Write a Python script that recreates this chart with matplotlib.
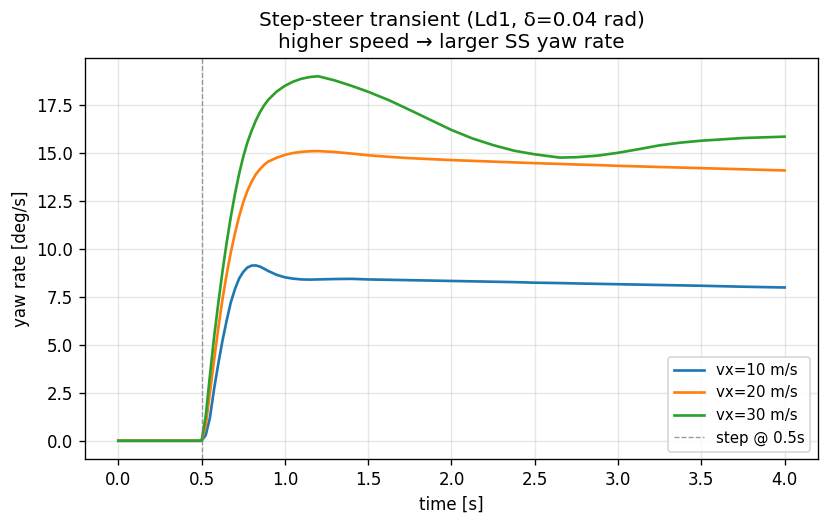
import numpy as np
import matplotlib
matplotlib.use("Agg")
import matplotlib.pyplot as plt

# time samples [s]
t = [0.0, 0.5, 0.525, 0.55, 0.575, 0.6, 0.625, 0.65, 0.675, 0.7, 0.725, 0.75,
     0.775, 0.8, 0.825, 0.85, 0.875, 0.9, 0.95, 1.0, 1.05, 1.1, 1.15, 1.2,
     1.3, 1.4, 1.5, 1.625, 1.75, 1.875, 2.0, 2.125, 2.25, 2.375, 2.5, 2.65,
     2.75, 2.875, 3.0, 3.125, 3.25, 3.375, 3.5, 3.75, 4.0]

# yaw rate [deg/s] per speed
r_vx10 = [0.0, 0.0, 0.3, 1.2, 2.7, 4.0, 5.2, 6.25, 7.2, 7.9, 8.45, 8.8,
          9.03, 9.13, 9.14, 9.08, 8.97, 8.85, 8.65, 8.52, 8.45, 8.41, 8.40, 8.41,
          8.43, 8.44, 8.41, 8.39, 8.37, 8.35, 8.33, 8.31, 8.29, 8.27, 8.24, 8.22,
          8.20, 8.18, 8.16, 8.14, 8.12, 8.10, 8.08, 8.03, 7.99]
r_vx20 = [0.0, 0.0, 0.8, 2.5, 4.2, 5.85, 7.35, 8.65, 9.8, 10.8, 11.68, 12.43,
          13.03, 13.5, 13.88, 14.15, 14.38, 14.55, 14.75, 14.9, 15.0, 15.06, 15.09, 15.1,
          15.05, 14.97, 14.88, 14.8, 14.73, 14.68, 14.63, 14.59, 14.55, 14.51, 14.47, 14.43,
          14.40, 14.37, 14.33, 14.30, 14.27, 14.24, 14.21, 14.15, 14.09]
r_vx30 = [0.0, 0.0, 1.3, 3.4, 5.4, 7.15, 8.8, 10.3, 11.65, 12.85, 13.9, 14.8,
          15.55, 16.15, 16.68, 17.12, 17.48, 17.77, 18.2, 18.5, 18.72, 18.87, 18.96, 19.0,
          18.78, 18.5, 18.19, 17.75, 17.24, 16.72, 16.2, 15.76, 15.41, 15.12, 14.93, 14.76,
          14.78, 14.86, 15.01, 15.2, 15.4, 15.54, 15.64, 15.78, 15.85]

speeds = [10, 20, 30]
series = [r_vx10, r_vx20, r_vx30]
t_step = 0.5

fig, ax = plt.subplots(figsize=(829 / 120, 525 / 120), dpi=120)
fig.subplots_adjust(left=0.1025, right=0.9867, top=0.8895, bottom=0.1257)

for vx, r in zip(speeds, series):
    ax.plot(t, r, lw=1.6, label=f"vx={vx} m/s")
ax.axvline(t_step, color="gray", ls="--", lw=0.8, alpha=0.8, label="step @ 0.5s")

ax.set_xlabel("time [s]")
ax.set_ylabel("yaw rate [deg/s]")
ax.set_title("Step-steer transient (Ld1, \u03b4=0.04 rad)\nhigher speed \u2192 larger SS yaw rate")
ax.grid(True, alpha=0.3)
ax.legend(loc="lower right", fontsize=9)

fig.savefig("out.png", dpi=120)
